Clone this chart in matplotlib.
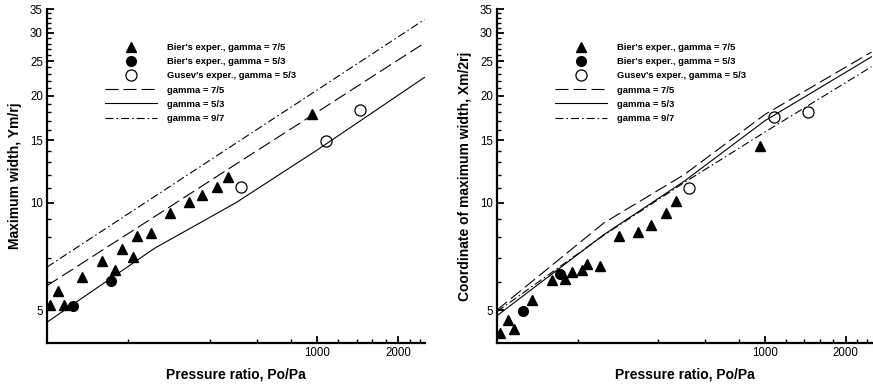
import matplotlib
matplotlib.use("Agg")
import matplotlib.pyplot as plt
from matplotlib.ticker import FixedLocator, NullFormatter, FixedFormatter

plt.rcParams['font.family'] = ['Liberation Sans', 'DejaVu Sans']

# ---- data ----
bier75_p = [103, 110, 116, 135, 160, 179, 190, 208, 216, 242, 285, 335, 375, 427, 467, 956]
bier75_ym = [5.18, 5.64, 5.15, 6.18, 6.88, 6.46, 7.43, 7.03, 8.08, 8.22, 9.36, 10.08, 10.5, 11.07, 11.85, 17.8]
bier75_xm = [4.30, 4.70, 4.43, 5.32, 6.08, 6.12, 6.39, 6.49, 6.75, 6.66, 8.08, 8.27, 8.68, 9.36, 10.1, 14.4]

bier53_p = [125, 172]
bier53_ym = [5.12, 6.02]
bier53_xm = [4.96, 6.32]

gusev_p = [521, 1077, 1448]
gusev_ym = [11.1, 14.95, 18.2]
gusev_xm = [11.0, 17.4, 17.95]

line_p = [100, 250, 500, 1000, 2500]
ym_g75 = [5.85, 9.14, 12.83, 17.97, 28.1]
ym_g53 = [4.62, 7.45, 10.0, 14.06, 22.5]
ym_g97 = [6.6, 10.41, 14.69, 20.72, 32.7]
xm_g75 = [5.0, 8.77, 12.0, 17.7, 26.5]
xm_g53 = [4.82, 8.13, 11.5, 17.0, 25.7]
xm_g97 = [4.95, 8.1, 11.4, 15.8, 24.1]

x_major = [1000, 2000]
x_major_labels = ['1000', '2000']
x_minor = [200, 400, 600, 800, 1200, 1400, 1600, 1800, 2200, 2400]
y_major = [5, 10, 15, 20, 25, 30, 35]
y_minor = [v for v in range(6, 35) if v % 5 != 0]

labels = ["Bier's exper., gamma = 7/5", "Bier's exper., gamma = 5/3",
          "Gusev's exper., gamma = 5/3", "gamma = 7/5", "gamma = 5/3", "gamma = 9/7"]
ylabels = ["Maximum width, Ym/rj", "Coordinate of maximum width, Xm/2rj"]

W, H = 873, 385
fig = plt.figure(figsize=(W / 100, H / 100), dpi=100)

axes_px = [(47, 425), (497, 872)]
top_px, bot_px = 9, 343

dash = (0, (11.7, 4.5))
dashdot = (0, (7.2, 2.7, 1.4, 2.7))

panels = [
    (bier75_ym, bier53_ym, gusev_ym, ym_g75, ym_g53, ym_g97),
    (bier75_xm, bier53_xm, gusev_xm, xm_g75, xm_g53, xm_g97),
]

for i, (xl, xr) in enumerate(axes_px):
    ax = fig.add_axes([xl / W, 1 - bot_px / H, (xr - xl) / W, (bot_px - top_px) / H])
    b75, b53, gus, g75, g53, g97 = panels[i]
    h1, = ax.plot(bier75_p, b75, linestyle='none', marker='^', ms=6.5, color='black', zorder=3)
    h2, = ax.plot(bier53_p, b53, linestyle='none', marker='o', ms=7, color='black', zorder=3)
    h3, = ax.plot(gusev_p, gus, linestyle='none', marker='o', ms=8, mfc='none', mec='black', mew=0.9, zorder=3)
    h4, = ax.plot(line_p, g75, color='black', lw=0.8, linestyle=dash)
    h5, = ax.plot(line_p, g53, color='black', lw=0.8, linestyle='-')
    h6, = ax.plot(line_p, g97, color='black', lw=0.8, linestyle=dashdot)

    ax.set_xscale('log')
    ax.set_yscale('log')
    ax.set_xlim(100, 2510)
    ax.set_ylim(4.04, 35)

    ax.xaxis.set_major_locator(FixedLocator(x_major))
    ax.xaxis.set_major_formatter(FixedFormatter(x_major_labels))
    ax.xaxis.set_minor_locator(FixedLocator(x_minor))
    ax.xaxis.set_minor_formatter(NullFormatter())
    ax.yaxis.set_major_locator(FixedLocator(y_major))
    ax.yaxis.set_major_formatter(FixedFormatter([str(v) for v in y_major]))
    ax.yaxis.set_minor_locator(FixedLocator(y_minor))
    ax.yaxis.set_minor_formatter(NullFormatter())

    ax.tick_params(which='major', direction='in', length=5, width=1.3, labelsize=8.3, pad=3)
    ax.tick_params(which='minor', direction='in', length=3, width=1.0)
    for s in ['top', 'right']:
        ax.spines[s].set_visible(False)
    for s in ['left', 'bottom']:
        ax.spines[s].set_linewidth(1.6)

    ax.set_xlabel("Pressure ratio, Po/Pa", fontsize=10, fontweight='bold', labelpad=6)
    ax.set_ylabel(ylabels[i], fontsize=10, fontweight='bold', labelpad=6)

    ax.legend([h1, h2, h3, h4, h5, h6], labels, loc='upper left',
              bbox_to_anchor=(58 / (xr - xl), (bot_px - 43) / (bot_px - top_px)),
              frameon=False, borderpad=0, borderaxespad=0,
              handlelength=5.5, handletextpad=1.1, labelspacing=0.55,
              prop={'family': 'Liberation Sans', 'weight': 'bold', 'size': 6.8})

fig.savefig('out.png', dpi=100)
